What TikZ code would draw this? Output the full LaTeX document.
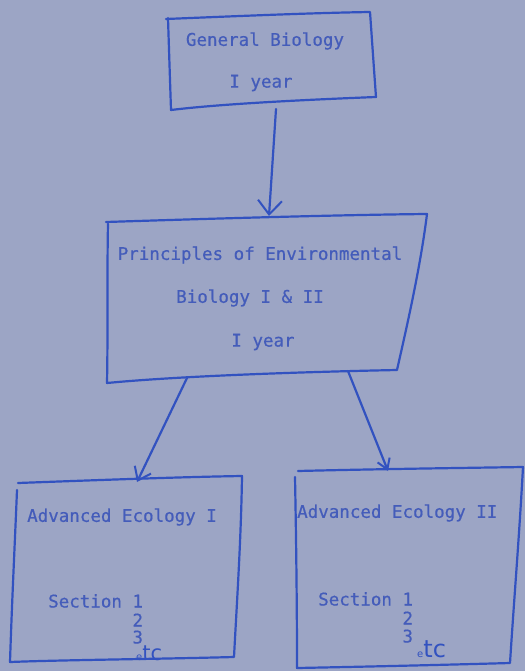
\documentclass[tikz,border=0pt]{standalone}
\usepackage{fontspec}
\newfontfamily\tw{DejaVu Sans Mono}[FakeBold=0.6]
\newfontfamily\hand{DejaVu Sans}
\usetikzlibrary{arrows.meta}
\definecolor{bg}{RGB}{156,165,197}
\definecolor{ink}{RGB}{50,82,192}
\definecolor{txt}{RGB}{68,92,186}
\begin{document}
\begin{tikzpicture}[x=1pt,y=-1pt,
  boxline/.style={draw=ink,line width=2.2pt,line join=round,line cap=round},
  txtlabel/.style={text=txt,font=\tw\fontsize{17.5}{21}\selectfont,inner sep=0pt},
  handtxt/.style={text=ink,inner sep=0pt},
  conn/.style={draw=ink,line width=2.2pt,line cap=round},
  bigbarb/.style={-{Straight Barb[length=14pt,width=24pt,line width=2pt]}},
  midbarb/.style={-{Straight Barb[length=12pt,width=18pt,line width=2pt]}},
  smallbarb/.style={-{Straight Barb[length=10pt,width=13pt,line width=2pt]}}]
\fill[bg] (0,0) rectangle (525,671);
\useasboundingbox (0,0) rectangle (525,671);

% boxes
\draw[boxline] (166,19) .. controls (240,16) and (310,13) .. (370,12) .. controls (372,40) and (374,70) .. (376,97)
  .. controls (300,100) and (220,104) .. (171,110) .. controls (170,80) and (169,50) .. (168,18);
\draw[boxline] (106,222) .. controls (200,219) and (330,215) .. (427,214) .. controls (420,270) and (406,330) .. (397,370)
  .. controls (300,372) and (180,376) .. (107,383) .. controls (108,330) and (107,270) .. (108,224);
\draw[boxline] (18,483) .. controls (100,480) and (180,477) .. (242,476) .. controls (241,540) and (237,600) .. (234,657)
  .. controls (160,659) and (60,660) .. (10,662) .. controls (12,600) and (15,540) .. (17,490);
\draw[boxline] (298,471) .. controls (380,469) and (460,468) .. (523,467) .. controls (519,540) and (514,600) .. (510,663)
  .. controls (440,665) and (350,667) .. (297,668) .. controls (297,600) and (296,530) .. (295,477);

% texts
\node[txtlabel] (gb1) at (265,41) {General Biology};
\node[txtlabel] (gb2) at (261,83) {I year};
\node[txtlabel] (peb1) at (260,255) {Principles of Environmental};
\node[txtlabel] (peb2) at (250,298) {Biology I \& II};
\node[txtlabel] (peb3) at (263,342) {I year};
\node[txtlabel,anchor=west] (ae1) at (27,517) {Advanced Ecology I};
\node[txtlabel,anchor=north west,align=left] (s1) at (48,594) {Section 1\\[-2pt]\phantom{Section }2\\[-4pt]\phantom{Section }3};
\node[handtxt,anchor=base west] (etc1) at (136,660) {\hand{\fontsize{10}{10}\selectfont e}\hand{\fontsize{21}{21}\selectfont tc}};
\node[txtlabel,anchor=west] (ae2) at (297,513) {Advanced Ecology II};
\node[txtlabel,anchor=north west,align=left] (s2) at (318,592) {Section 1\\[-2pt]\phantom{Section }2\\[-3pt]\phantom{Section }3};
\node[handtxt,anchor=base west] (etc2) at (417,657) {\hand{\fontsize{10}{10}\selectfont e}\hand{\fontsize{24}{24}\selectfont tc}};

% connector end points
\coordinate (gbS) at (276,109);
\coordinate (pebN) at (269,216);
\coordinate (pebSL) at (187,378);
\coordinate (ae1N) at (137,482);
\coordinate (pebSR) at (348,371);
\coordinate (ae2N) at (388,471);

\draw[conn,bigbarb] (gbS) -- (pebN);
\draw[conn,midbarb] (pebSL) -- (ae1N);
\draw[conn,smallbarb] (pebSR) -- (ae2N);
\end{tikzpicture}
\end{document}
